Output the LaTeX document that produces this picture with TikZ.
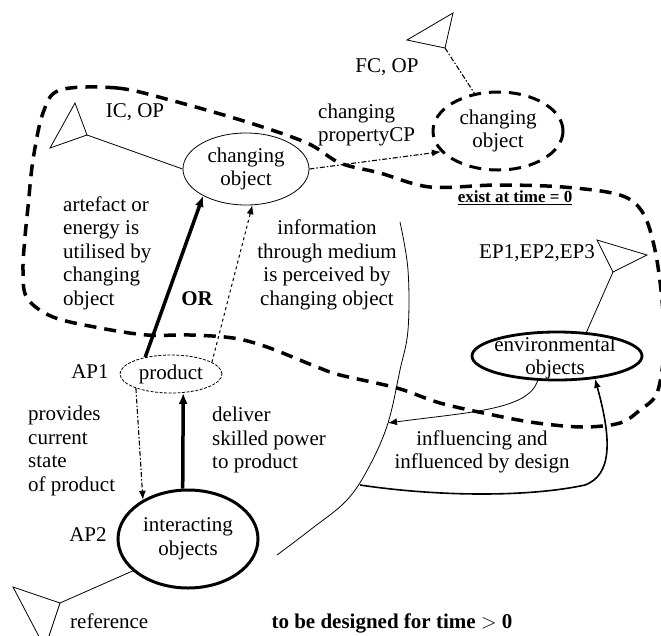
\documentclass[tikz,border=0pt]{standalone}
\usepackage{fontspec}
\setmainfont{Liberation Serif}
\usetikzlibrary{arrows.meta,shapes.geometric}

\begin{document}
\begin{tikzpicture}[x=1pt,y=-1pt,
  font=\fontsize{21}{23.5}\selectfont,
  obj/.style={ellipse,draw,inner sep=0pt,align=center},
  lbl/.style={inner sep=0pt,align=left},
  thinln/.style={line width=0.8pt},
  tip/.style={-{Latex[length=9pt,width=7pt]}},
  fatarrow/.style={line width=3.5pt,-{Latex[length=11pt,width=9pt]}},
  bigdash/.style={line width=3.5pt,dash pattern=on 12pt off 8pt},
  dashdot/.style={line width=1.1pt,dash pattern=on 5pt off 2pt on 1.5pt off 2pt}]
  \useasboundingbox (0,0) rectangle (661,635); % 図全体の大きさ
  \clip (0,0) rectangle (661,635); % はみ出した部分を切り取る
  \draw[bigdash] plot[smooth cycle,tension=0.55] coordinates {
    (60,90) (117,88) (170,100) (247,122) (307,143) (340,163) (380,173)
    (430,187) (497,185) (563,187) (620,195) (643,213) (655,250) (662,300)
    (664,350) (657,393) (640,410) (620,423) (583,427) (537,423) (493,415)
    (440,403) (397,388) (340,375) (317,367) (267,347) (233,338) (190,335)
    (147,335) (100,328) (53,317) (27,298) (23,270) (25,237) (28,207)
    (33,160) (43,113)}; % 時刻0に存在するものを囲む太い破線
  \node[obj,thinln,minimum width=126pt,minimum height=72pt] (chgObj) at (246,169) {changing\\object}; % 変化する対象
  \node[obj,bigdash,line width=3pt,minimum width=130pt,minimum height=78pt] (chgFut) at (498,131) {changing\\object}; % 変化後の対象
  \node[obj,thinln,dash pattern=on 3pt off 1.5pt,minimum width=102pt,minimum height=38pt] (product) at (171,374) {product}; % 製品
  \node[obj,line width=3pt,minimum width=140pt,minimum height=98pt] (interact) at (188,539) {interacting\\objects}; % 相互作用する対象
  \node[obj,line width=2.8pt,minimum width=170pt,minimum height=48pt] (envObj) at (557,356) {}; % 環境の対象
  \node[inner sep=0pt,align=center] (envTxt) at (555,358) {environmental\\objects}; % 環境の対象の文字
  \coordinate (icTip) at (87,135); % IC, OP の三角の頂点
  \draw[thinln] (icTip) -- (75,103) -- (50,148) -- cycle; % IC, OP の三角
  \draw[thinln] (icTip) -- (chgObj.west); % 三角と変化する対象をつなぐ線
  \coordinate (fcTip) at (445,48); % FC, OP の三角の頂点
  \draw[thinln] (fcTip) -- (453,13) -- (407,40) -- cycle; % FC, OP の三角
  \draw[dashdot] (fcTip) -- (chgFut.122); % 三角と変化後の対象をつなぐ一点鎖線
  \coordinate (epTip) at (613,272); % EP の三角の頂点
  \draw[thinln] (epTip) -- (597,240) -- (647,255) -- cycle; % EP の三角
  \draw[thinln] (epTip) -- (envObj.39); % 三角と環境の対象をつなぐ線
  \coordinate (refTip) at (60,603); % reference の三角の頂点
  \draw[thinln] (refTip) -- (13,587) -- (45,648) -- cycle; % reference の三角
  \draw[thinln] (refTip) -- (interact.210); % 三角と相互作用する対象をつなぐ線
  \draw[fatarrow] (product.147) -- (chgObj.212); % 人工物やエネルギーの利用
  \draw[line width=1pt,dashed,tip] (product.16) -- (chgObj.280); % 媒体を通した情報
  \draw[dashdot,tip] (chgObj.east) -- (chgFut.200); % 性質の変化
  \draw[dashdot,tip] (product.202) -- (interact.139); % 製品の現在の状態
  \draw[fatarrow] (interact.96) -- (product.303); % 技能の力を製品へ
  \coordinate (bndTop) at (400,222); % 境界線の上端
  \coordinate (bndEnd) at (277,555); % 境界線の下端
  \draw[thinln] plot[smooth,tension=0.6] coordinates {(bndTop) (408,270) (408,330)
    (400,370) (388,423) (370,465) (347,500) (310,530) (bndEnd)}; % 設計するものとの境界
  \coordinate (bndArr) at (388,423); % 境界線上の矢印の先
  \coordinate (infStart) at (360,485); % 境界線上の矢印の元
  \draw[thinln,tip] (envObj.232) .. controls (528,410) and (470,412) .. (bndArr); % 環境から設計への影響
  \draw[line width=1.6pt,tip] (infStart) .. controls (440,497) and (530,497) .. (585,485)
    .. controls (612,475) and (612,440) .. (envObj.-31); % 設計から環境への影響
  \node[inner sep=0pt] (icLbl) at (135,112) {IC, OP}; % 初期状態の記号
  \node[inner sep=0pt] (fcLbl) at (387,67) {FC, OP}; % 最終状態の記号
  \node[lbl,anchor=west] (cpLbl) at (318,125) {changing\\propertyCP}; % 性質の変化の説明
  \node[inner sep=0pt,font=\fontsize{17}{20}\selectfont\bfseries] (existLbl) at (515,198) {\underline{exist at time = 0}}; % 時刻0
  \node[lbl,anchor=west] (artLbl) at (63,253) {artefact or\\energy is\\utilised by\\changing\\object}; % 左側の説明
  \node[inner sep=0pt,font=\fontsize{21}{23.5}\selectfont\bfseries] (orLbl) at (197,299) {OR}; % または
  \node[inner sep=0pt,align=center] (infoLbl) at (327,265) {information\\through medium\\is perceived by\\changing object}; % 情報の説明
  \node[inner sep=0pt] (epLbl) at (537,253) {EP1,EP2,EP3}; % 環境の記号
  \node[inner sep=0pt] (ap1Lbl) at (90,372) {AP1}; % 製品の記号
  \node[lbl,anchor=west] (provLbl) at (28,451) {provides\\current\\state\\of product}; % 状態の説明
  \node[lbl,anchor=west] (delLbl) at (212,440) {deliver\\skilled power\\to product}; % 力の説明
  \node[inner sep=0pt] (ap2Lbl) at (88,535) {AP2}; % 相互作用の記号
  \node[inner sep=0pt,align=center] (infLbl) at (482,452) {influencing and\\influenced by design}; % 影響の説明
  \node[inner sep=0pt,anchor=base west] (refLbl) at (70,628) {reference}; % 参照
  \node[inner sep=0pt,anchor=base,font=\fontsize{21}{23.5}\selectfont\bfseries] (tbdLbl) at (392,628) {to be designed for time $>$ 0}; % 設計対象
\end{tikzpicture}
\end{document}
